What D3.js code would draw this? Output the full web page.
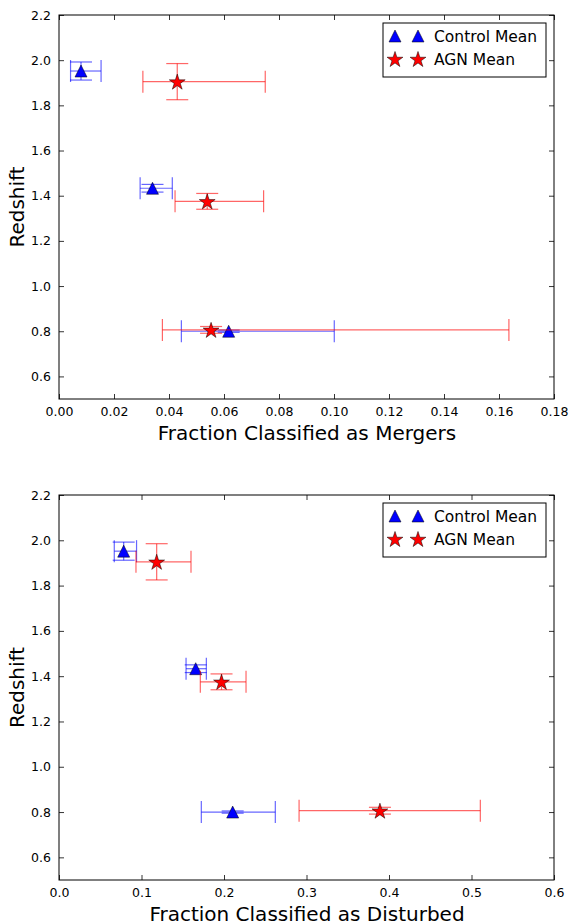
<!DOCTYPE html>
<html>
<head>
<meta charset="utf-8">
<script src="https://cdn.jsdelivr.net/npm/d3@7/dist/d3.min.js"></script>
<style>
  html, body { margin: 0; padding: 0; background: #fff; }
  svg { display: block; font-family: "DejaVu Sans", sans-serif; }
</style>
</head>
<body>
<svg id="chart" width="569" height="922"></svg>
<script>
// Mean redshift of each sample (shared by both panels)
const controlZ    = [1.952, 1.433, 0.800];
const controlZErr = [0.040, 0.017, 0.005];
const agnZ        = [1.905, 1.375, 0.806];
const agnZErr     = [0.080, 0.035, 0.015];

// Merger fractions with lower / upper bounds
const mergerControl   = [0.0080, 0.0340, 0.0617];
const mergerControlLo = [0.0042, 0.0295, 0.0445];
const mergerControlHi = [0.0153, 0.0412, 0.1001];
const mergerAgn       = [0.0430, 0.0539, 0.0553];
const mergerAgnLo     = [0.0305, 0.0422, 0.0376];
const mergerAgnHi     = [0.0750, 0.0744, 0.1636];

// Disturbed fractions with lower / upper bounds
const disturbedControl   = [0.0784, 0.1657, 0.2105];
const disturbedControlLo = [0.0670, 0.1540, 0.1725];
const disturbedControlHi = [0.0940, 0.1786, 0.2622];
const disturbedAgn       = [0.1184, 0.1970, 0.3890];
const disturbedAgnLo     = [0.0933, 0.1713, 0.2910];
const disturbedAgnHi     = [0.1600, 0.2267, 0.5107];

// Axis ticks
const yTicks = [0.6, 0.8, 1.0, 1.2, 1.4, 1.6, 1.8, 2.0, 2.2];
const mergerTicks = [0, 0.02, 0.04, 0.06, 0.08, 0.10, 0.12, 0.14, 0.16, 0.18];
const disturbedTicks = [0, 0.1, 0.2, 0.3, 0.4, 0.5, 0.6];
const seriesNames = ["Control Mean", "AGN Mean"];

const svg = d3.select("#chart");

const panels = [
  {
    top: 15, bottom: 399, xMax: 0.18, ticks: mergerTicks, fmt: d3.format(".2f"),
    label: "Fraction Classified as Mergers",
    control: { x: mergerControl, lo: mergerControlLo, hi: mergerControlHi },
    agn: { x: mergerAgn, lo: mergerAgnLo, hi: mergerAgnHi }
  },
  {
    top: 495, bottom: 880, xMax: 0.6, ticks: disturbedTicks, fmt: d3.format(".1f"),
    label: "Fraction Classified as Disturbed",
    control: { x: disturbedControl, lo: disturbedControlLo, hi: disturbedControlHi },
    agn: { x: disturbedAgn, lo: disturbedAgnLo, hi: disturbedAgnHi }
  }
];

const left = 59, right = 554;
const cap = 11;

// Marker shapes: isosceles "^" triangle and five-point star
const triPath = s => `M0,${-s}L${s},${s}L${-s},${s}Z`;
const starPath = d3.symbol().type(d3.symbolStar).size(78)();

function drawMarker(g, kind, x, y) {
  if (kind === "control") {
    g.append("path").attr("d", triPath(6)).attr("transform", `translate(${x},${y})`)
      .attr("fill", "#0000ff").attr("stroke", "#000").attr("stroke-width", 0.5);
  } else {
    g.append("path").attr("d", starPath).attr("transform", `translate(${x},${y + 0.8})`)
      .attr("fill", "#ff0000").attr("stroke", "#000").attr("stroke-width", 0.5);
  }
}

panels.forEach(p => {
  const x = d3.scaleLinear().domain([0, p.xMax]).range([left, right]);
  const y = d3.scaleLinear().domain([0.5, 2.2]).range([p.bottom, p.top]);
  const g = svg.append("g");

  // Inward ticks on all four sides
  const tickLen = 5;
  const bx = d3.axisBottom(x).tickValues(p.ticks).tickSizeInner(-tickLen).tickSizeOuter(0).tickPadding(8).tickFormat(p.fmt);
  const tx = d3.axisTop(x).tickValues(p.ticks).tickSizeInner(-tickLen).tickSizeOuter(0).tickFormat("");
  const ly = d3.axisLeft(y).tickValues(yTicks).tickSizeInner(-tickLen).tickSizeOuter(0).tickPadding(8).tickFormat(d3.format(".1f"));
  const ry = d3.axisRight(y).tickValues(yTicks).tickSizeInner(-tickLen).tickSizeOuter(0).tickFormat("");

  const axes = [
    g.append("g").attr("transform", `translate(0,${p.bottom})`).call(bx),
    g.append("g").attr("transform", `translate(0,${p.top})`).call(tx),
    g.append("g").attr("transform", `translate(${left},0)`).call(ly),
    g.append("g").attr("transform", `translate(${right},0)`).call(ry)
  ];
  axes.forEach(a => {
    a.select(".domain").remove();
    a.selectAll("line").attr("stroke", "#000").attr("stroke-width", 0.8);
    a.selectAll("text").attr("font-size", 12.5).attr("fill", "#000")
      .attr("font-family", "DejaVu Sans, sans-serif");
  });

  g.append("rect").attr("x", left).attr("y", p.top)
    .attr("width", right - left).attr("height", p.bottom - p.top)
    .attr("fill", "none").attr("stroke", "#000").attr("stroke-width", 1);

  // Axis titles
  g.append("text").attr("x", (left + right) / 2 + 0.5).attr("y", p.bottom + 41)
    .attr("text-anchor", "middle").attr("font-size", 20).text(p.label);
  g.append("text").attr("transform", `translate(24,${(p.top + p.bottom) / 2}) rotate(-90)`)
    .attr("text-anchor", "middle").attr("font-size", 20).text("Redshift");

  // Error bars then markers, per series
  const series = [
    { kind: "control", color: "#0000ff", d: p.control, z: controlZ, ze: controlZErr },
    { kind: "agn", color: "#ff0000", d: p.agn, z: agnZ, ze: agnZErr }
  ];
  series.forEach(s => {
    const eb = g.append("g").attr("stroke", s.color).attr("stroke-opacity", 0.6)
      .attr("stroke-width", 1.2).attr("fill", "none");
    s.z.forEach((zv, i) => {
      const cy = y(zv), x0 = x(s.d.lo[i]), x1 = x(s.d.hi[i]), cx = x(s.d.x[i]);
      const y0 = y(zv - s.ze[i]), y1 = y(zv + s.ze[i]);
      eb.append("line").attr("x1", x0).attr("x2", x1).attr("y1", cy).attr("y2", cy);
      eb.append("line").attr("x1", x0).attr("x2", x0).attr("y1", cy - cap).attr("y2", cy + cap);
      eb.append("line").attr("x1", x1).attr("x2", x1).attr("y1", cy - cap).attr("y2", cy + cap);
      eb.append("line").attr("x1", cx).attr("x2", cx).attr("y1", y0).attr("y2", y1);
      eb.append("line").attr("x1", cx - cap).attr("x2", cx + cap).attr("y1", y0).attr("y2", y0);
      eb.append("line").attr("x1", cx - cap).attr("x2", cx + cap).attr("y1", y1).attr("y2", y1);
    });
    s.z.forEach((zv, i) => drawMarker(g, s.kind, x(s.d.x[i]), y(zv)));
  });

  // Legend
  const lg = g.append("g").attr("transform", `translate(383,${p.top + 8})`);
  lg.append("rect").attr("width", 163).attr("height", 54)
    .attr("fill", "#fff").attr("stroke", "#000").attr("stroke-width", 1);
  ["control", "agn"].forEach((k, i) => {
    const ry0 = 13 + i * 23;
    drawMarker(lg, k, 12, ry0);
    drawMarker(lg, k, 35, ry0);
    lg.append("text").attr("x", 51).attr("y", ry0 + 5.5)
      .attr("font-size", 15.5).text(seriesNames[i]);
  });
});
</script>
</body>
</html>
